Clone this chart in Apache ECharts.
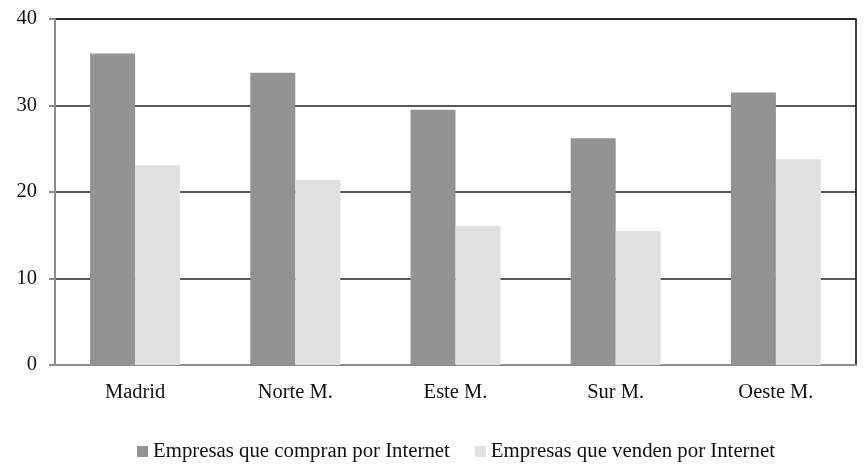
<!DOCTYPE html>
<html><head><meta charset="utf-8">
<script src="https://cdn.jsdelivr.net/npm/echarts@6/dist/echarts.min.js"></script>
<style>html,body{margin:0;padding:0;background:#fff}#c{width:867px;height:475px}</style>
</head><body><div id="c"></div>
<script>
const categories = ["Madrid", "Norte M.", "Este M.", "Sur M.", "Oeste M."];
const compran = [36.0, 33.8, 29.5, 26.2, 31.5];
const venden = [23.1, 21.4, 16.1, 15.5, 23.8];
const seriesNames = ["Empresas que compran por Internet", "Empresas que venden por Internet"];
const font = "Liberation Serif";
const chart = echarts.init(document.getElementById('c'), null, {renderer: 'canvas'});
chart.setOption({
  animation: false,
  backgroundColor: '#fff',
  textStyle: {fontFamily: font},
  grid: {left: 55, right: 11, top: 19, bottom: 110, show: true, borderColor: '#000', borderWidth: 1.5, backgroundColor: 'transparent'},
  legend: {
    top: 436, left: 132, itemWidth: 11, itemHeight: 11, itemGap: 25,
    textStyle: {fontFamily: font, fontSize: 20.8, color: '#111'},
    icon: 'rect'
  },
  xAxis: {
    type: 'category', data: categories,
    axisLine: {lineStyle: {color: '#8c8c8c', width: 2}},
    axisTick: {show: false},
    axisLabel: {fontFamily: font, fontSize: 20.5, color: '#111', margin: 17}
  },
  yAxis: {
    type: 'value', min: 0, max: 40, interval: 10,
    axisLine: {show: true, lineStyle: {color: '#8c8c8c', width: 2}},
    axisTick: {show: true, length: 6, lineStyle: {color: '#8c8c8c', width: 2}},
    axisLabel: {fontFamily: font, fontSize: 20.5, color: '#111', margin: 18},
    splitLine: {lineStyle: {color: '#222', width: 1.5}}
  },
  series: [
    {name: seriesNames[0], type: 'bar', data: compran, barWidth: 45, barGap: '0%', itemStyle: {color: '#939393'}},
    {name: seriesNames[1], type: 'bar', data: venden, barWidth: 45, barGap: '0%', itemStyle: {color: '#e0e0e2'}}
  ]
});
</script></body></html>
